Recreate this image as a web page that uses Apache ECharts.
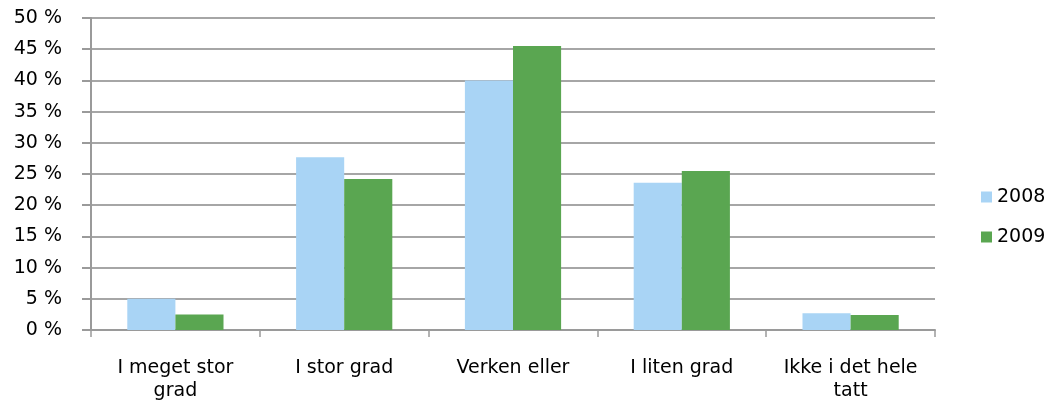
<!DOCTYPE html>
<html>
<head>
<meta charset="utf-8">
<script src="https://cdn.jsdelivr.net/npm/echarts@6/dist/echarts.min.js"></script>
<style>
  html, body { margin: 0; padding: 0; background: #fff; }
  #chart { width: 1052px; height: 405px; }
</style>
</head>
<body>
<div id="chart"></div>
<script>
// Survey answers per category, share of respondents in percent
const categories = ['I meget stor\ngrad', 'I stor grad', 'Verken eller', 'I liten grad', 'Ikke i det hele\ntatt'];
const seriesNames = ['2008', '2009'];
const values2008 = [5.0, 27.7, 40.0, 23.6, 2.7];
const values2009 = [2.5, 24.2, 45.5, 25.5, 2.4];
const yTicks = { min: 0, max: 50, interval: 5 };

const FONT = 'DejaVu Sans';
const chart = echarts.init(document.getElementById('chart'), null, { renderer: 'canvas' });

chart.setOption({
  animation: false,
  textStyle: { fontFamily: FONT },
  grid: { left: 91, right: 117, top: 18, bottom: 75, containLabel: false },
  legend: {
    orient: 'vertical',
    left: 976,
    top: 181,
    icon: 'rect',
    itemWidth: 11,
    itemHeight: 11,
    itemGap: 18,
    data: seriesNames,
    textStyle: { fontFamily: FONT, fontSize: 19, color: '#000', lineHeight: 22 }
  },
  xAxis: {
    type: 'category',
    data: categories,
    boundaryGap: true,
    axisLine: { show: true, lineStyle: { color: '#9a9a9a', width: 2 } },
    axisTick: { show: true, alignWithLabel: false, length: 7, lineStyle: { color: '#9a9a9a', width: 1.5 } },
    axisLabel: {
      interval: 0,
      margin: 27,
      fontFamily: FONT,
      fontSize: 19,
      lineHeight: 23,
      color: '#000',
      align: 'center'
    },
    splitLine: { show: false }
  },
  yAxis: {
    type: 'value',
    min: yTicks.min,
    max: yTicks.max,
    interval: yTicks.interval,
    axisLine: { show: true, lineStyle: { color: '#9a9a9a', width: 2 } },
    axisTick: { show: true, length: 9, lineStyle: { color: '#9a9a9a', width: 2 } },
    axisLabel: {
      margin: 29,
      fontFamily: FONT,
      fontSize: 19,
      color: '#000',
      formatter: '{value} %'
    },
    splitLine: { show: true, lineStyle: { color: '#a6a6a6', width: 2 } }
  },
  series: [
    {
      name: seriesNames[0],
      type: 'bar',
      data: values2008,
      barGap: '0%',
      barCategoryGap: '43%',
      itemStyle: { color: '#a9d4f5' }
    },
    {
      name: seriesNames[1],
      type: 'bar',
      data: values2009,
      barGap: '0%',
      barCategoryGap: '43%',
      itemStyle: { color: '#5aa651' }
    }
  ]
});
</script>
</body>
</html>
